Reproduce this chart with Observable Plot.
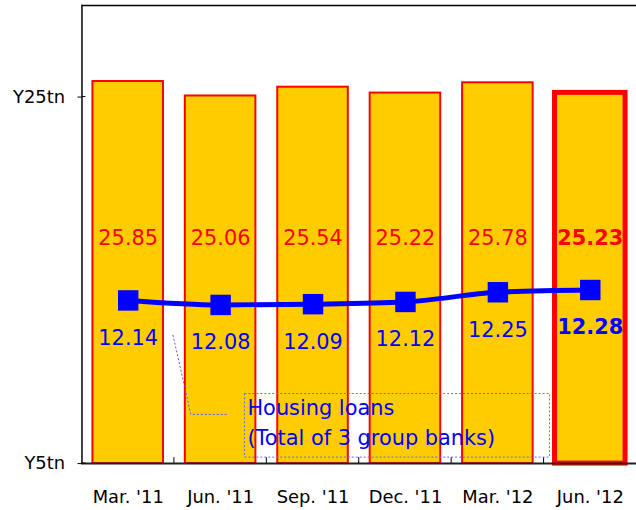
<!DOCTYPE html>
<html>
<head>
<meta charset="utf-8">
<script src="https://cdn.jsdelivr.net/npm/d3@7"></script>
<script src="https://cdn.jsdelivr.net/npm/@observablehq/plot@0.6"></script>
<style>
  html, body { margin: 0; padding: 0; background: #fff; overflow: hidden; }
  #chart { width: 636px; height: 510px; overflow: hidden; }
</style>
</head>
<body>
<div id="chart"></div>
<script>
const periods = ["Mar. '11", "Jun. '11", "Sep. '11", "Dec. '11", "Mar. '12", "Jun. '12"];
const totalLoans = [25.85, 25.06, 25.54, 25.22, 25.78, 25.23];
const housingLoans = [12.14, 12.08, 12.09, 12.12, 12.25, 12.28];
const yTicks = [5, 25];
const legendLines = ["Housing loans", "(Total of 3 group banks)"];

const FONT = "'DejaVu Sans', 'Liberation Sans', Arial, sans-serif";

const data = periods.map((p, i) => ({
  period: p, total: totalLoans[i], housing: housingLoans[i], last: i === periods.length - 1
}));
const regular = data.filter(d => !d.last);
const highlighted = data.filter(d => d.last);

// secondary (unlabelled) axis for housing loans mapped onto the primary range
const yHousing = d3.scaleLinear().domain([9.95, 16.1]).range([5, 30]);
const labelLevel = 17.3;

const totalLabel = (rows, weight) => Plot.text(rows, {x: "period", y: () => labelLevel, text: d => d.total.toFixed(2),
  fill: "#FF0000", fontSize: 21, fontWeight: weight});
const housingLabel = (rows, weight) => Plot.text(rows, {x: "period", y: d => yHousing(d.housing), dy: 38,
  text: d => d.housing.toFixed(2), fill: "#0000FF", fontSize: 21, fontWeight: weight});

const plot = Plot.plot({
  width: 640,
  height: 510,
  marginLeft: 82,
  marginRight: 0,
  marginTop: 5,
  marginBottom: 44,
  style: {fontFamily: FONT, background: "white"},
  x: {domain: periods, paddingInner: 0.24, paddingOuter: 0.12, label: null},
  y: {domain: [5, 30], label: null},
  marks: [
    Plot.ruleY([30], {stroke: "black", strokeWidth: 1.5}),
    Plot.barY(regular, {x: "period", y1: 5, y2: "total", fill: "#FFCC00", stroke: "#FF0000", strokeWidth: 2}),
    Plot.barY(highlighted, {x: "period", y1: 5, y2: "total", fill: "#FFCC00", stroke: "#FF0000", strokeWidth: 5}),
    totalLabel(regular, "normal"),
    totalLabel(highlighted, "bold"),
    Plot.line(data, {x: "period", y: d => yHousing(d.housing), stroke: "#0000FF", strokeWidth: 5, curve: "monotone-x"}),
    Plot.dot(data, {x: "period", y: d => yHousing(d.housing), symbol: "square", r: 11.6, fill: "#0000FF", stroke: "none"}),
    housingLabel(regular, "normal"),
    housingLabel(highlighted, "bold"),
    Plot.frame({anchor: "left", stroke: "black", strokeWidth: 1.5}),
    Plot.ruleY([5], {stroke: "#222", strokeWidth: 2}),
    Plot.axisY({ticks: yTicks, tickFormat: d => `Y${d}tn`, tickSize: 4, tickPadding: 13, fontSize: 18, color: "black"}),
    Plot.axisX({tickSize: 0, tickPadding: 27, fontSize: 18, color: "black"})
  ]
});

document.getElementById("chart").appendChild(plot);

// category boundary ticks (inward), derived from the x scale
const xs = plot.scale("x");
const ys = plot.scale("y");
const svg = d3.select(plot);
const step = xs.step, bw = xs.bandwidth;
const yBase = ys.apply(5);
periods.forEach((p, i) => {
  if (i === 0) return;
  const bx = xs.apply(p) - (step - bw) / 2;
  svg.append("line").attr("x1", bx).attr("x2", bx).attr("y1", yBase - 6).attr("y2", yBase)
    .attr("stroke", "black").attr("stroke-width", 1);
});
// inner half of the y-axis ticks
yTicks.forEach(t => {
  const y = ys.apply(t);
  svg.append("line").attr("x1", 82).attr("x2", 86).attr("y1", y).attr("y2", y).attr("stroke", "black");
});

// legend / annotation for the housing-loan line
const lg = svg.append("g");
lg.append("polyline")
  .attr("points", "174,337 192,417 228,417")
  .attr("fill", "none").attr("stroke", "#5555ff").attr("stroke-width", 1).attr("stroke-dasharray", "2,2");
lg.append("rect").attr("x", 246).attr("y", 396).attr("width", 307).attr("height", 64)
  .attr("fill", "none").attr("stroke", "#6666ff").attr("stroke-width", 1).attr("stroke-dasharray", "2,2");
legendLines.forEach((t, i) => {
  lg.append("text").attr("x", 249).attr("y", 418 + i * 30).attr("fill", "#0000FF")
    .attr("text-anchor", "start").attr("font-size", 21).attr("font-family", FONT).text(t);
});
</script>
</body>
</html>
